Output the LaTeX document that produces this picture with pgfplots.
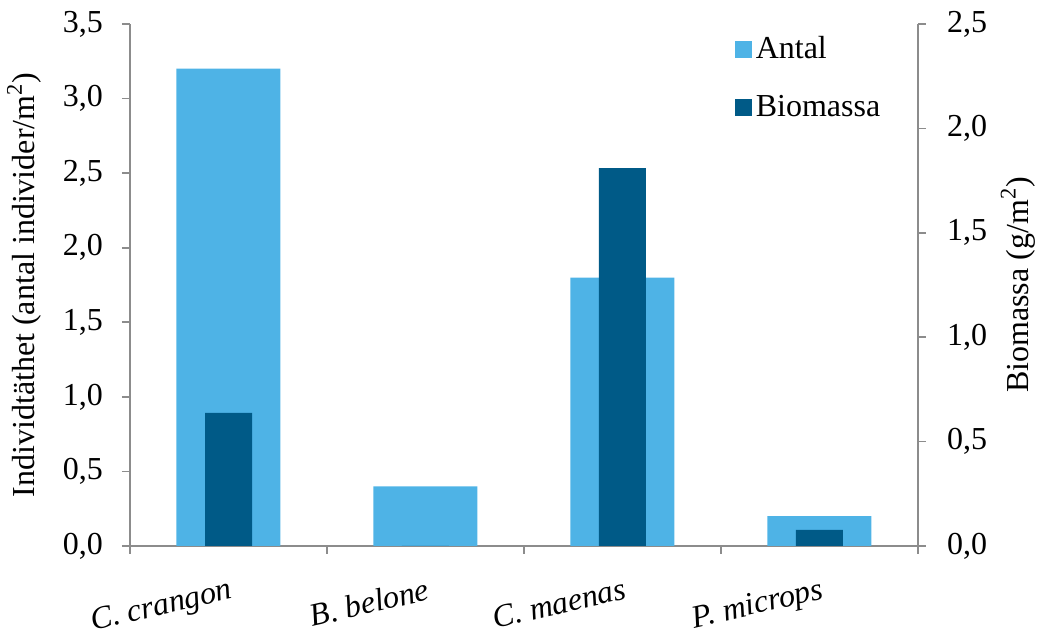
\documentclass[border=0pt]{standalone}
\usepackage{fontspec}
\setmainfont{Liberation Serif}
\usepackage{pgfplots}
\pgfplotsset{compat=1.18}
\definecolor{lightb}{RGB}{78,179,230}
\definecolor{darkb}{RGB}{0,90,135}
\definecolor{axgray}{RGB}{140,140,140}
\begin{document}
\fontsize{16}{19}\selectfont
\begin{tikzpicture}
\pgfplotsset{
  common/.style={
    scale only axis, width=394pt, height=261pt,
    xmin=-0.5, xmax=3.5,
    ybar, bar shift=0pt,
    tick align=outside,
    major tick length=4pt,
    every tick/.style={axgray, line width=0.8pt},
    axis line style={axgray, line width=0.8pt},
    /pgf/number format/.cd, use comma, fixed, fixed zerofill, precision=1, assume math mode=true,
  }
}
\begin{axis}[common, name=ax,
  axis y line*=left, axis x line*=bottom,
  ymin=0, ymax=3.5, ytick={0,0.5,...,3.5},
  yticklabel style={xshift=-4pt},
  xtick={-0.5,0.5,1.5,2.5,3.5},
  x tick label as interval,
  xticklabels={\textit{C. crangon},\textit{B. belone},\textit{C. maenas},\textit{P. microps}},
  xticklabel style={rotate=13, anchor=north east, xshift=3pt, yshift=-6pt},
  ylabel={Individtäthet (antal individer/m\textsuperscript{2})},
  ylabel style={yshift=0pt},
  ]
\addplot[fill=lightb, draw=none, bar width=52pt] coordinates {(0,3.2) (1,0.4) (2,1.8) (3,0.2)};
\end{axis}
\begin{axis}[common,
  axis y line*=right, axis x line=none,
  ymin=0, ymax=2.5, ytick={0,0.5,...,2.5},
  yticklabel style={xshift=5pt},
  ylabel={Biomassa (g/m\textsuperscript{2})},
  ylabel style={yshift=4pt},
  legend style={draw=none, fill=none, at={(0.767,0.985)}, anchor=north west, row sep=12pt, inner sep=0pt,
    /tikz/every even column/.append style={column sep=5pt}},
  legend cell align=left,
  legend image code/.code={\fill[#1] (0pt,-4pt) rectangle (8.5pt,4.5pt);},
  ]
\addlegendimage{fill=lightb, draw=none}
\addlegendentry{Antal}
\addplot[fill=darkb, draw=none, bar width=23.5pt] coordinates {(0,0.637) (1,0) (2,1.81) (3,0.077)};
\addlegendentry{Biomassa}
\end{axis}
\pgfresetboundingbox
\path[use as bounding box] (ax.south west) ++(-65pt,-44.5pt) rectangle ++(520pt,317.5pt);
\end{tikzpicture}
\end{document}
